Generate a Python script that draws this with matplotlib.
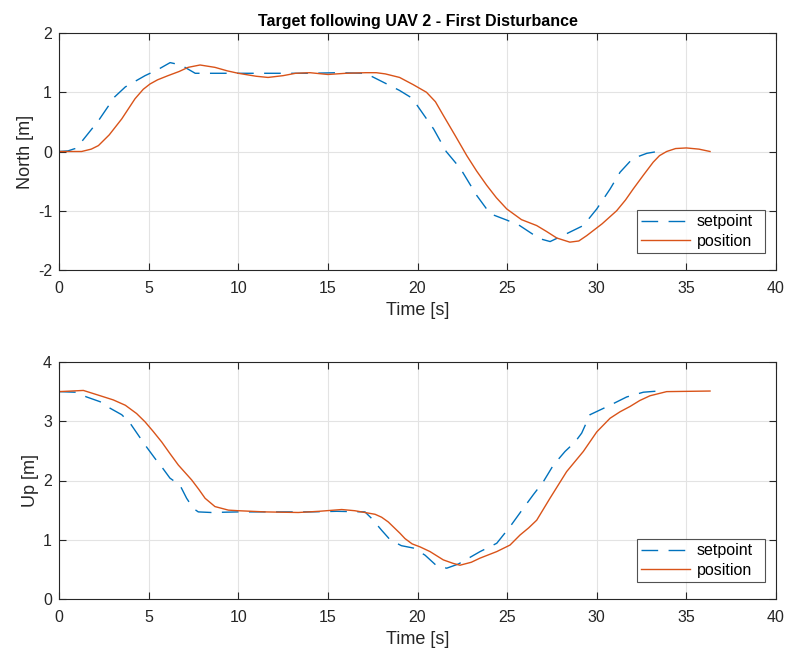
import matplotlib
matplotlib.use("Agg")
import matplotlib.pyplot as plt

plt.rcParams['font.family'] = ['Liberation Sans', 'DejaVu Sans']
plt.rcParams['axes.unicode_minus'] = False

# North channel
north_sp_t = [0, 0.5, 0.9, 1.3, 2.2, 3.1, 3.7, 4.8, 5.5, 6.2, 6.8, 7.6, 10, 12, 14, 15.5, 17.1,
              18.35, 19.0, 19.7, 20.9, 21.6, 22.4, 23.3, 24.05, 25.0, 25.7, 26.8, 27.4,
              28.3, 29.25, 30.0, 30.75, 31.3, 32.0, 32.8, 33.4]
north_sp_v = [0, 0.01, 0.05, 0.18, 0.52, 0.92, 1.09, 1.28, 1.38, 1.50, 1.46, 1.32, 1.32, 1.32, 1.32, 1.33, 1.32,
              1.13, 1.03, 0.90, 0.38, 0.0, -0.29, -0.74, -1.05, -1.16, -1.25, -1.47, -1.52,
              -1.39, -1.25, -0.97, -0.63, -0.35, -0.12, -0.03, 0.0]

north_pos_t = [0, 1.26, 1.8, 2.2, 2.8, 3.5, 4.24, 4.7, 5.08, 5.5, 6.08, 6.7, 7.2, 7.87, 8.7, 9.4, 10.0,
               11.0, 11.66, 12.5, 13.2, 14.0, 15.0, 16.0, 17.1, 17.7, 18.2, 19.0, 19.75, 20.5,
               21.0, 21.44, 22.1, 22.75, 23.3, 23.86, 24.4, 24.98, 25.8, 26.65, 27.2, 27.77,
               28.5, 29.0, 29.44, 30.3, 31.11, 31.6, 32.04, 32.6, 33.15, 33.5, 33.9, 34.4,
               35.0, 35.7, 36.32]
north_pos_v = [0, 0.0, 0.04, 0.10, 0.28, 0.55, 0.89, 1.05, 1.14, 1.21, 1.28, 1.35, 1.42, 1.46, 1.42,
               1.36, 1.32, 1.27, 1.25, 1.28, 1.32, 1.33, 1.30, 1.32, 1.33, 1.33, 1.31, 1.25,
               1.13, 1.00, 0.84, 0.61, 0.27, -0.07, -0.33, -0.57, -0.78, -0.97, -1.15, -1.25,
               -1.35, -1.46, -1.53, -1.51, -1.42, -1.22, -1.00, -0.82, -0.63, -0.40, -0.18,
               -0.07, 0.0, 0.05, 0.06, 0.04, 0.0]

# Up channel
up_sp_t = [0, 0.9, 1.54, 2.29, 2.85, 3.5, 3.96, 4.8, 5.36, 5.73, 6.19, 6.75, 7.12, 7.49, 7.77,
           8.5, 10, 12, 14, 15.5, 17.07, 17.44, 18.0, 18.47, 19.1, 19.77, 20.42, 21.07,
           21.63, 22.28, 23.49, 24.42, 25.16, 25.9, 26.46, 27.02, 27.58, 28.23, 28.79,
           29.16, 29.62, 30.74, 31.67, 32.6, 33.43]
up_sp_v = [3.5, 3.49, 3.41, 3.33, 3.22, 3.11, 2.97, 2.60, 2.37, 2.23, 2.04, 1.92, 1.70, 1.53, 1.47,
           1.46, 1.47, 1.47, 1.47, 1.48, 1.47, 1.36, 1.16, 1.00, 0.90, 0.86, 0.74, 0.56,
           0.52, 0.59, 0.80, 0.94, 1.22, 1.53, 1.76, 1.98, 2.26, 2.49, 2.65,
           2.80, 3.11, 3.27, 3.41, 3.49, 3.51]

up_pos_t = [0, 0.7, 1.36, 2.2, 3.03, 3.7, 4.33, 4.8, 5.25, 5.73, 6.2, 6.66, 7.4, 7.8, 8.15, 8.7,
            9.45, 10, 11.5, 13.35, 14.5, 15.77, 16.5, 17.63, 18.0, 18.37, 19.02, 19.3, 19.7,
            20.14, 20.7, 21.44, 22.0, 22.37, 23.0, 23.49, 24.42, 25.16, 25.72, 26.2, 26.65,
            27.39, 28.32, 29.25, 30.0, 30.74, 31.3, 31.86, 32.4, 32.97, 33.9, 36.32]
up_pos_v = [3.5, 3.51, 3.52, 3.44, 3.36, 3.27, 3.13, 2.99, 2.83, 2.65, 2.45, 2.26, 2.01, 1.85, 1.70,
            1.56, 1.50, 1.49, 1.47, 1.46, 1.48, 1.51, 1.49, 1.43, 1.38, 1.30, 1.11, 1.02, 0.93,
            0.88, 0.80, 0.66, 0.60, 0.57, 0.62, 0.69, 0.80, 0.91, 1.08, 1.20, 1.33,
            1.70, 2.15, 2.49, 2.82, 3.05, 3.16, 3.25, 3.35, 3.43, 3.50, 3.51]

x_ticks = [0, 5, 10, 15, 20, 25, 30, 35, 40]
north_ticks = [-2, -1, 0, 1, 2]
up_ticks = [0, 1, 2, 3, 4]

C_SP = '#0072BD'
C_POS = '#D95319'
AX_COL = '#262626'
DASH = (12, 7.5)

fig = plt.figure(figsize=(7.87, 6.53), dpi=100)
ax1 = fig.add_axes([59/787, 1 - 270/653, 717/787, 237/653])
ax2 = fig.add_axes([59/787, 1 - 599/653, 717/787, 237/653])


def style(ax, yticks, ylabel):
    ax.set_xlim(0, 40)
    ax.set_ylim(yticks[0], yticks[-1])
    ax.set_xticks(x_ticks)
    ax.set_yticks(yticks)
    ax.grid(True, color='#e3e3e3', linewidth=0.8)
    ax.set_axisbelow(True)
    for s in ax.spines.values():
        s.set_color(AX_COL)
        s.set_linewidth(0.8)
    ax.tick_params(direction='in', length=5, width=0.8, color=AX_COL,
                   top=True, right=True, labelsize=11.5, labelcolor=AX_COL)
    ax.tick_params(axis='x', pad=8)
    ax.tick_params(axis='y', pad=5)
    ax.set_xlabel('Time [s]', fontsize=13, color=AX_COL, labelpad=4)
    ax.set_ylabel(ylabel, fontsize=13, color=AX_COL, labelpad=3)
    leg = ax.legend(loc='lower right', bbox_to_anchor=(0.8061, 0.0717, 0.1785, 0.19),
                    mode='expand', fontsize=11.5, frameon=True, fancybox=False,
                    edgecolor=AX_COL, handlelength=3.1, handletextpad=0.4,
                    borderpad=0.25, labelspacing=0.3, borderaxespad=0)
    leg.get_frame().set_linewidth(0.8)


ax1.plot(north_sp_t, north_sp_v, color=C_SP, lw=1.0, dashes=DASH, label='setpoint')
ax1.plot(north_pos_t, north_pos_v, color=C_POS, lw=1.0, label='position')
style(ax1, north_ticks, 'North [m]')
ax1.set_title('Target following UAV 2 - First Disturbance', fontsize=11.5,
              fontweight='bold', color='black', pad=5)

ax2.plot(up_sp_t, up_sp_v, color=C_SP, lw=1.0, dashes=DASH, label='setpoint')
ax2.plot(up_pos_t, up_pos_v, color=C_POS, lw=1.0, label='position')
style(ax2, up_ticks, 'Up [m]')

fig.savefig('out.png', dpi=100)
